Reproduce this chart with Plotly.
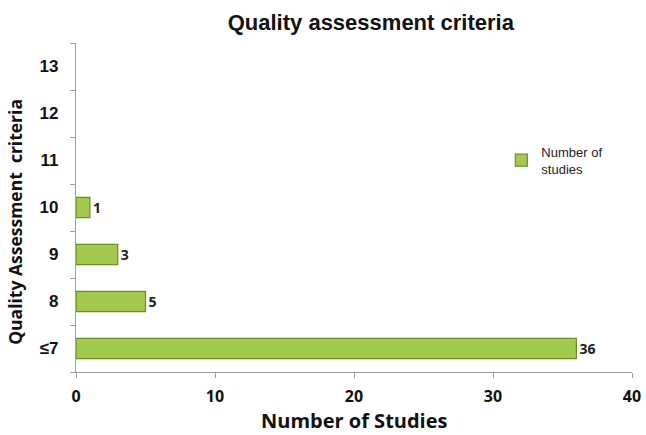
import plotly.graph_objects as go

categories = ["≤7", "8", "9", "10", "11", "12", "13"]
studies = [36, 5, 3, 1, None, None, None]
labels = ["36", "5", "3", "1", "", "", ""]
x_ticks = [0, 10, 20, 30, 40]

fig = go.Figure()
fig.add_trace(go.Bar(
    y=categories, x=studies, orientation="h",
    name="Number of<br>studies",
    marker=dict(color="#a3c94e", line=dict(color="#6b8e23", width=1.2)),
    text=labels, textposition="outside", cliponaxis=False,
    textfont=dict(family="Open Sans", size=14, color="#222222", weight="bold"),
))

fig.update_layout(
    width=646, height=435,
    margin=dict(l=76, r=14, t=43, b=63),
    plot_bgcolor="white", paper_bgcolor="white",
    bargap=0.57,
    showlegend=True,
    title=dict(text="Quality assessment criteria", x=0.574, xanchor="center", y=0.949, yanchor="middle",
               font=dict(family="Liberation Sans", size=22, color="#111111", weight="bold")),
    legend=dict(x=0.765, y=0.715, xanchor="left", yanchor="top", bgcolor="rgba(0,0,0,0)",
                font=dict(family="Liberation Sans", size=13, color="#222222"), itemwidth=30),
    xaxis=dict(range=[0, 40], tickvals=x_ticks, showgrid=False, zeroline=False, automargin=False,
               showline=True, linecolor="#a0a0a0", linewidth=1.2,
               ticks="outside", ticklen=5, tickcolor="#a0a0a0",
               ticklabelstandoff=5, ticklabeloverflow="allow",
               tickfont=dict(family="Open Sans", size=16, color="#111111", weight="bold")),
    yaxis=dict(categoryorder="array", categoryarray=categories, showgrid=False, zeroline=False,
               automargin=False,
               showline=True, linecolor="#a0a0a0", linewidth=1.2,
               ticks="outside", ticklen=5, tickcolor="#a0a0a0", tickson="boundaries",
               ticklabelstandoff=13,
               tickfont=dict(family="Liberation Sans", size=17, color="#111111", weight="bold")),
    annotations=[
        dict(text="Quality Assessment  criteria", xref="paper", yref="paper",
             x=-0.11, y=0.456, xanchor="center", yanchor="middle", textangle=-90,
             showarrow=False,
             font=dict(family="Open Sans", size=17.5, color="#111111", weight="bold")),
        dict(text="Number of Studies", xref="paper", yref="paper",
             x=0.5, y=-0.146, xanchor="center", yanchor="middle",
             showarrow=False,
             font=dict(family="Open Sans", size=20, color="#111111", weight="bold")),
    ],
)

fig.write_html("out.html", config={"displayModeBar": False},
               post_script="document.body.style.margin='0';")
